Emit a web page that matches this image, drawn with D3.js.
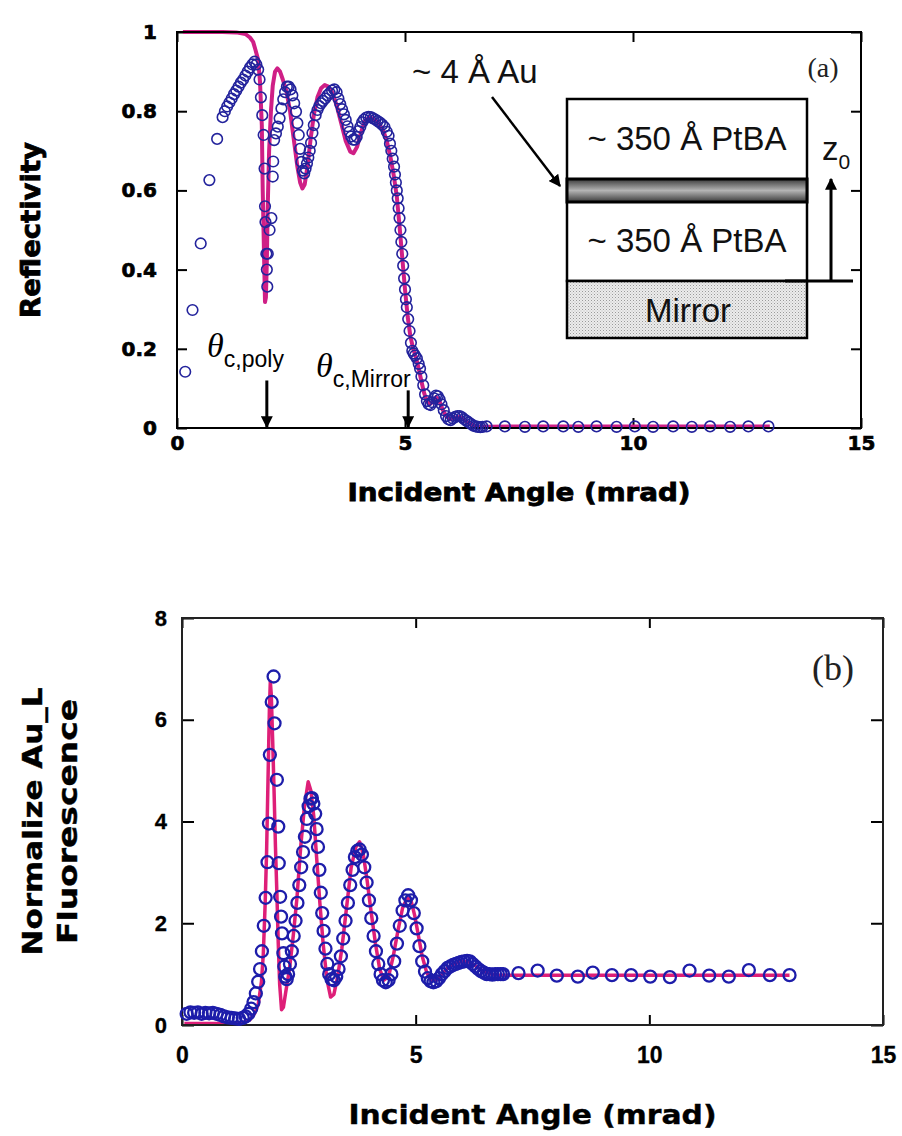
<!DOCTYPE html>
<html>
<head>
<meta charset="utf-8">
<script src="https://cdn.jsdelivr.net/npm/d3@7"></script>
<style>
  body { margin: 0; background: #fff; }
  svg { display: block; }
</style>
</head>
<body>
<svg id="fig" width="902" height="1136"></svg>
<script>
// ---------- (a) reflectivity vs incident angle ----------
const reflectivityFit = [
  [0.13,1.000],[0.50,1.000],[1.00,1.000],[1.30,0.999],[1.50,0.995],[1.60,0.986],[1.67,0.975],
  [1.72,0.955],[1.78,0.930],[1.82,0.875],[1.86,0.765],[1.88,0.600],[1.91,0.430],[1.93,0.318],
  [1.95,0.330],[1.97,0.420],[1.99,0.560],[2.02,0.700],[2.06,0.800],[2.10,0.865],[2.15,0.900],
  [2.20,0.908],[2.26,0.900],[2.32,0.880],[2.40,0.850],[2.48,0.800],[2.56,0.730],[2.64,0.660],
  [2.70,0.620],[2.75,0.605],[2.80,0.615],[2.86,0.660],[2.93,0.730],[3.00,0.790],[3.08,0.835],
  [3.16,0.858],[3.24,0.866],[3.32,0.862],[3.40,0.848],[3.50,0.815],[3.60,0.770],[3.70,0.725],
  [3.80,0.698],[3.87,0.694],[3.95,0.710],[4.03,0.745],[4.12,0.775],[4.22,0.785],[4.32,0.780],
  [4.42,0.770],[4.52,0.752],[4.60,0.725],[4.68,0.685],[4.75,0.640],[4.82,0.585],[4.88,0.510],
  [4.94,0.430],[5.00,0.350],[5.06,0.280],[5.12,0.230],[5.18,0.200],[5.24,0.178],[5.30,0.150],
  [5.36,0.118],[5.42,0.088],[5.48,0.068],[5.54,0.060],[5.60,0.065],[5.68,0.078],[5.75,0.070],
  [5.82,0.048],[5.90,0.030],[6.00,0.022],[6.10,0.026],[6.20,0.028],[6.30,0.020],[6.40,0.012],
  [6.50,0.006],[6.60,0.003],[6.80,0.003],[7.50,0.004],[8.50,0.004],[10.00,0.004],[11.50,0.004],
  [13.00,0.004]
];

const reflectivityObs = [
  [0.18,0.142],[0.34,0.298],[0.52,0.466],[0.71,0.626],[0.88,0.730],[1.00,0.785],[1.05,0.800],
  [1.10,0.812],[1.15,0.822],[1.20,0.832],[1.25,0.843],[1.30,0.852],[1.35,0.862],[1.40,0.872],
  [1.45,0.880],[1.50,0.890],[1.55,0.900],[1.60,0.910],[1.65,0.918],[1.70,0.925],[1.74,0.918],
  [1.78,0.905],[1.81,0.880],[1.84,0.835],[1.87,0.790],[1.90,0.740],[1.92,0.655],[1.93,0.560],
  [1.94,0.520],[1.96,0.440],[1.97,0.400],[1.98,0.357],[1.99,0.440],[2.03,0.500],[2.07,0.530],
  [2.10,0.635],[2.11,0.673],[2.13,0.727],[2.17,0.744],[2.21,0.761],[2.25,0.782],[2.29,0.807],
  [2.33,0.830],[2.37,0.848],[2.41,0.862],[2.45,0.862],[2.49,0.855],[2.53,0.840],[2.57,0.820],
  [2.61,0.799],[2.64,0.770],[2.67,0.740],[2.70,0.705],[2.73,0.672],[2.76,0.650],[2.79,0.643],
  [2.82,0.655],[2.85,0.668],[2.88,0.683],[2.91,0.700],[2.94,0.720],[2.97,0.745],[3.00,0.765],
  [3.04,0.790],[3.08,0.803],[3.12,0.813],[3.16,0.820],[3.20,0.826],[3.25,0.832],[3.30,0.840],
  [3.35,0.846],[3.40,0.852],[3.45,0.855],[3.50,0.848],[3.54,0.832],[3.58,0.818],[3.62,0.805],
  [3.66,0.792],[3.70,0.778],[3.74,0.762],[3.78,0.748],[3.82,0.736],[3.86,0.728],[3.90,0.728],
  [3.94,0.735],[3.98,0.750],[4.02,0.760],[4.06,0.772],[4.10,0.779],[4.15,0.784],[4.20,0.786],
  [4.25,0.785],[4.30,0.782],[4.35,0.779],[4.40,0.775],[4.45,0.771],[4.50,0.766],[4.55,0.760],
  [4.60,0.748],[4.64,0.738],[4.67,0.718],[4.70,0.700],[4.73,0.680],[4.76,0.660],[4.78,0.640],
  [4.80,0.620],[4.82,0.600],[4.84,0.580],[4.86,0.555],[4.88,0.530],[4.90,0.500],[4.92,0.470],
  [4.94,0.440],[4.96,0.410],[4.98,0.378],[5.00,0.350],[5.02,0.325],[5.04,0.305],[5.07,0.275],
  [5.10,0.245],[5.13,0.215],[5.16,0.195],[5.19,0.188],[5.22,0.183],[5.26,0.176],[5.30,0.162],
  [5.33,0.150],[5.36,0.130],[5.40,0.108],[5.44,0.085],[5.48,0.068],[5.52,0.060],[5.56,0.058],
  [5.60,0.065],[5.64,0.075],[5.68,0.082],[5.72,0.080],[5.76,0.072],[5.80,0.060],[5.85,0.045],
  [5.90,0.030],[5.95,0.022],[6.00,0.020],[6.05,0.024],[6.10,0.028],[6.15,0.030],[6.20,0.030],
  [6.25,0.027],[6.30,0.022],[6.35,0.018],[6.40,0.014],[6.45,0.010],[6.50,0.006],[6.55,0.004],
  [6.60,0.003],[6.65,0.002],[6.70,0.003],[6.79,0.004],[7.19,0.004],[7.63,0.003],[8.03,0.004],
  [8.47,0.004],[8.80,0.003],[9.20,0.004],[9.64,0.003],[10.04,0.004],[10.44,0.003],[10.88,0.004],
  [11.29,0.003],[11.69,0.004],[12.13,0.003],[12.53,0.004],[12.97,0.004]
];

// ---------- (b) normalized Au L fluorescence vs incident angle ----------
const fluorescenceFit = [
  [0.05,0.03],[0.50,0.03],[1.00,0.03],[1.30,0.04],[1.45,0.10],[1.55,0.22],[1.63,0.40],
  [1.70,0.85],[1.74,1.40],[1.78,2.40],[1.81,3.40],[1.84,4.80],[1.87,6.20],[1.89,6.75],
  [1.91,6.50],[1.94,5.60],[1.97,4.60],[2.00,3.50],[2.03,2.60],[2.06,1.60],[2.09,0.80],
  [2.13,0.30],[2.17,0.35],[2.22,0.65],[2.30,1.10],[2.38,1.75],[2.46,2.50],[2.54,3.50],
  [2.62,4.30],[2.70,4.78],[2.76,4.60],[2.82,4.10],[2.88,3.30],[2.95,2.40],[3.02,1.60],
  [3.10,0.90],[3.18,0.55],[3.25,0.60],[3.33,0.95],[3.42,1.50],[3.52,2.30],[3.62,3.10],
  [3.72,3.50],[3.80,3.60],[3.88,3.35],[3.96,2.85],[4.05,2.20],[4.14,1.60],[4.23,1.10],
  [4.32,0.88],[4.42,0.95],[4.52,1.35],[4.62,1.85],[4.72,2.30],[4.82,2.50],[4.90,2.45],
  [4.98,2.15],[5.06,1.75],[5.14,1.35],[5.24,1.02],[5.34,0.88],[5.44,0.88],[5.55,0.98],
  [5.68,1.12],[5.82,1.20],[5.98,1.25],[6.14,1.24],[6.30,1.15],[6.46,1.05],[6.62,1.00],
  [6.80,0.98],[7.50,0.98],[8.50,0.98],[10.00,0.98],[11.50,0.98],[13.00,0.98]
];

const fluorescenceObs = [
  [0.10,0.22],[0.18,0.25],[0.26,0.24],[0.34,0.25],[0.42,0.22],[0.50,0.24],[0.58,0.23],
  [0.66,0.24],[0.74,0.22],[0.82,0.20],[0.90,0.17],[0.98,0.15],[1.06,0.14],[1.14,0.13],
  [1.22,0.12],[1.30,0.14],[1.36,0.17],[1.42,0.22],[1.48,0.32],[1.53,0.45],[1.58,0.62],
  [1.63,0.85],[1.67,1.10],[1.71,1.45],[1.75,1.95],[1.79,2.50],[1.83,3.20],[1.86,3.96],
  [1.88,5.31],[1.92,6.35],[1.96,6.85],[1.98,5.93],[2.03,4.82],[2.06,3.90],[2.07,3.18],
  [2.10,2.52],[2.12,2.13],[2.14,1.80],[2.17,1.41],[2.19,1.15],[2.21,0.95],[2.24,0.90],
  [2.27,1.00],[2.31,1.20],[2.35,1.45],[2.39,1.75],[2.43,2.05],[2.47,2.40],[2.51,2.75],
  [2.55,3.10],[2.59,3.40],[2.63,3.70],[2.67,4.05],[2.71,4.30],[2.75,4.45],[2.78,4.46],
  [2.81,4.35],[2.85,4.15],[2.88,3.85],[2.91,3.50],[2.94,3.05],[2.97,2.60],[3.00,2.20],
  [3.03,1.85],[3.07,1.50],[3.11,1.20],[3.15,1.00],[3.20,0.90],[3.25,0.88],[3.30,0.95],
  [3.35,1.10],[3.40,1.35],[3.45,1.70],[3.50,2.05],[3.55,2.40],[3.60,2.75],[3.65,3.05],
  [3.70,3.30],[3.75,3.42],[3.80,3.45],[3.85,3.35],[3.90,3.10],[3.95,2.80],[4.00,2.45],
  [4.05,2.10],[4.10,1.75],[4.15,1.45],[4.20,1.20],[4.25,1.00],[4.30,0.88],[4.36,0.84],
  [4.42,0.88],[4.48,1.00],[4.54,1.25],[4.60,1.60],[4.66,1.95],[4.72,2.25],[4.78,2.45],
  [4.84,2.55],[4.90,2.45],[4.96,2.20],[5.02,1.90],[5.08,1.55],[5.14,1.25],[5.20,1.05],
  [5.26,0.92],[5.32,0.86],[5.38,0.84],[5.44,0.86],[5.50,0.92],[5.56,1.00],[5.62,1.06],
  [5.68,1.12],[5.74,1.15],[5.80,1.18],[5.86,1.20],[5.92,1.22],[5.98,1.24],[6.04,1.25],
  [6.10,1.26],[6.16,1.25],[6.22,1.20],[6.28,1.15],[6.34,1.10],[6.40,1.06],[6.46,1.03],
  [6.52,1.00],[6.58,1.00],[6.64,0.99],[6.70,1.00],[6.76,1.00],[6.82,1.00],[6.87,1.00],
  [7.20,1.02],[7.61,1.07],[8.02,0.97],[8.47,0.95],[8.79,1.03],[9.20,0.98],[9.61,0.98],
  [10.02,0.95],[10.44,0.94],[10.86,1.07],[11.28,0.97],[11.70,0.95],[12.13,1.08],[12.58,0.98],
  [13.00,0.98]
];

// axis ticks
const angleTicks = [0, 5, 10, 15];
const reflTicks = [0, 0.2, 0.4, 0.6, 0.8, 1];
const fluorTicks = [0, 2, 4, 6, 8];
// critical angles marked with arrows in panel (a)
const criticalAngles = [
  { name: "poly",   at: 1.97, top: 0.12, lx: 0.66, ly: 0.18 },
  { name: "Mirror", at: 5.07, top: 0.095, lx: 3.05, ly: 0.13 }
];

const svg = d3.select("#fig");
const defs = svg.append("defs");

const heavy = "'DejaVu Sans', sans-serif";
const arial = "'Liberation Sans', Arial, sans-serif";
const serif = "'Liberation Serif', 'Times New Roman', serif";

// arrowhead marker
defs.append("marker")
  .attr("id", "head").attr("viewBox", "0 0 10 10")
  .attr("refX", 9).attr("refY", 5)
  .attr("markerWidth", 12).attr("markerHeight", 12)
  .attr("markerUnits", "userSpaceOnUse")
  .attr("orient", "auto")
  .append("path").attr("d", "M0,0 L10,5 L0,10 Z").attr("fill", "#000");

// gold layer shading
const g = defs.append("linearGradient").attr("id", "au").attr("x1", 0).attr("y1", 0).attr("x2", 0).attr("y2", 1);
g.append("stop").attr("offset", "0").attr("stop-color", "#3a3a3a");
g.append("stop").attr("offset", "0.5").attr("stop-color", "#b4b4b4");
g.append("stop").attr("offset", "1").attr("stop-color", "#3a3a3a");

// stippled mirror substrate
const pat = defs.append("pattern").attr("id", "dots").attr("width", 3).attr("height", 3)
  .attr("patternUnits", "userSpaceOnUse");
pat.append("rect").attr("width", 3).attr("height", 3).attr("fill", "#ececec");
pat.append("rect").attr("width", 1).attr("height", 1).attr("fill", "#9a9a9a");
pat.append("rect").attr("x", 1.5).attr("y", 1.5).attr("width", 1).attr("height", 1).attr("fill", "#b8b8b8");

function frame(x, y, color) {
  const [x0, x1] = x.range(), [y0, y1] = y.range();
  svg.append("rect")
    .attr("x", x0).attr("y", y1).attr("width", x1 - x0).attr("height", y0 - y1)
    .attr("fill", "none").attr("stroke", color).attr("stroke-width", 2);
}

function styleAxis(sel, font, size, weight, thicken) {
  sel.select(".domain").remove();
  sel.selectAll(".tick line").attr("stroke", "#000").attr("stroke-width", 2);
  sel.selectAll(".tick text").attr("font-family", font).attr("font-size", size)
    .attr("font-weight", weight).attr("fill", "#000")
    .attr("stroke", thicken ? "#000" : null).attr("stroke-width", thicken || null);
}

// ================= panel (a) =================
const xA = d3.scaleLinear().domain([0, 15]).range([177, 861]);
const yA = d3.scaleLinear().domain([0, 1]).range([428, 32]);

svg.append("g").attr("transform", `translate(0,${yA(0)})`)
  .call(d3.axisBottom(xA).tickValues(angleTicks).tickSize(-10).tickPadding(8).tickFormat(d3.format("d")))
  .call(s => styleAxis(s, heavy, 20, "bold", 0.7));
svg.append("g").attr("transform", `translate(0,${yA(1)})`)
  .call(d3.axisTop(xA).tickValues(angleTicks).tickSize(-10).tickFormat(""))
  .call(s => styleAxis(s, heavy, 20, "bold", 0));
svg.append("g").attr("transform", `translate(${xA(0)},0)`)
  .call(d3.axisLeft(yA).tickValues(reflTicks).tickSize(-10).tickPadding(20)
    .tickFormat(d => (d === 0 || d === 1) ? d3.format("d")(d) : d3.format(".1f")(d)))
  .call(s => styleAxis(s, heavy, 20, "bold", 0.7));
svg.append("g").attr("transform", `translate(${xA(15)},0)`)
  .call(d3.axisRight(yA).tickValues(reflTicks).tickSize(-10).tickFormat(""))
  .call(s => styleAxis(s, heavy, 20, "bold", 0));

const lineA = d3.line().x(d => xA(d[0])).y(d => yA(d[1]));
svg.append("path").datum(reflectivityFit).attr("d", lineA)
  .attr("fill", "none").attr("stroke", "#cf1f86").attr("stroke-width", 4)
  .attr("stroke-linejoin", "round");
frame(xA, yA, "#000");
svg.append("g").selectAll("circle").data(reflectivityObs).join("circle")
  .attr("cx", d => xA(d[0])).attr("cy", d => yA(d[1])).attr("r", 5.3)
  .attr("fill", "none").attr("stroke", "#23239c").attr("stroke-width", 1.6);

// critical angle markers
criticalAngles.forEach(c => {
  svg.append("line")
    .attr("x1", xA(c.at)).attr("x2", xA(c.at))
    .attr("y1", yA(c.top)).attr("y2", yA(0) - 1)
    .attr("stroke", "#000").attr("stroke-width", 3).attr("marker-end", "url(#head)");
  const t = svg.append("text").attr("x", xA(c.lx)).attr("y", yA(c.ly)).attr("fill", "#000");
  t.append("tspan").attr("font-family", serif).attr("font-style", "italic").attr("font-size", 34).text("θ");
  t.append("tspan").attr("font-family", arial).attr("font-size", 23).attr("dy", 10).text("c," + c.name);
});

// label (a)
svg.append("text").attr("x", 823).attr("y", 77).attr("text-anchor", "middle")
  .attr("font-family", serif).attr("font-size", 28).attr("fill", "#222").text("(a)");

// sample stack diagram
const stack = svg.append("g");
const bx0 = 567, bx1 = 807;
const yTop = 99, yAu0 = 179, yAu1 = 202, yMir = 281, yBot = 338;
stack.append("rect").attr("x", bx0).attr("y", yTop).attr("width", bx1 - bx0).attr("height", yMir - yTop)
  .attr("fill", "#fff").attr("stroke", "#000").attr("stroke-width", 2.5);
stack.append("rect").attr("x", bx0).attr("y", yMir).attr("width", bx1 - bx0).attr("height", yBot - yMir)
  .attr("fill", "url(#dots)").attr("stroke", "#000").attr("stroke-width", 2.5);
stack.append("rect").attr("x", bx0).attr("y", yAu0).attr("width", bx1 - bx0).attr("height", yAu1 - yAu0)
  .attr("fill", "url(#au)").attr("stroke", "#000").attr("stroke-width", 3);
const insetFont = 33;
stack.append("text").attr("x", (bx0 + bx1) / 2).attr("y", 150).attr("text-anchor", "middle")
  .attr("font-family", arial).attr("font-size", insetFont).attr("fill", "#111").text("~ 350 Å PtBA");
stack.append("text").attr("x", (bx0 + bx1) / 2).attr("y", 252).attr("text-anchor", "middle")
  .attr("font-family", arial).attr("font-size", insetFont).attr("fill", "#111").text("~ 350 Å PtBA");
stack.append("text").attr("x", 688).attr("y", 322).attr("text-anchor", "middle")
  .attr("font-family", arial).attr("font-size", insetFont).attr("fill", "#111").text("Mirror");
// z0 reference
stack.append("line").attr("x1", 785).attr("x2", 853).attr("y1", yMir).attr("y2", yMir)
  .attr("stroke", "#000").attr("stroke-width", 3);
stack.append("line").attr("x1", 831).attr("x2", 831).attr("y1", yMir).attr("y2", 179)
  .attr("stroke", "#000").attr("stroke-width", 3).attr("marker-end", "url(#head)");
const z = stack.append("text").attr("x", 822).attr("y", 160).attr("font-family", arial)
  .attr("font-size", insetFont).attr("fill", "#111");
z.append("tspan").text("z");
z.append("tspan").attr("font-size", 21).attr("dy", 9).text("0");
// gold layer callout
svg.append("text").attr("x", 412).attr("y", 83).attr("font-family", arial)
  .attr("font-size", insetFont).attr("fill", "#111").text("~ 4 Å Au");
svg.append("line").attr("x1", 492).attr("y1", 97).attr("x2", 560).attr("y2", 186)
  .attr("stroke", "#000").attr("stroke-width", 2.5).attr("marker-end", "url(#head)");

// axis titles (a)
svg.append("text").attr("x", (xA(0) + xA(15)) / 2).attr("y", 501).attr("text-anchor", "middle")
  .attr("font-family", heavy).attr("font-weight", "bold").attr("font-size", 24)
  .attr("stroke", "#000").attr("stroke-width", 0.8)
  .attr("textLength", 343).attr("lengthAdjust", "spacingAndGlyphs").text("Incident Angle (mrad)");
svg.append("text").attr("transform", `translate(40,${(yA(0) + yA(1)) / 2}) rotate(-90)`)
  .attr("text-anchor", "middle").attr("font-family", heavy).attr("font-weight", "bold")
  .attr("font-size", 26).attr("stroke", "#000").attr("stroke-width", 0.8)
  .attr("textLength", 176).attr("lengthAdjust", "spacingAndGlyphs")
  .text("Reflectivity");

// ================= panel (b) =================
const xB = d3.scaleLinear().domain([0, 15]).range([182, 883]);
const yB = d3.scaleLinear().domain([0, 8]).range([1025, 618]);

svg.append("g").attr("transform", `translate(0,${yB(0)})`)
  .call(d3.axisBottom(xB).tickValues(angleTicks).tickSize(-10).tickPadding(22).tickFormat(d3.format("d")))
  .call(s => styleAxis(s, arial, 23, "bold", 0.3));
svg.append("g").attr("transform", `translate(0,${yB(8)})`)
  .call(d3.axisTop(xB).tickValues(angleTicks).tickSize(-10).tickFormat(""))
  .call(s => styleAxis(s, arial, 23, "bold", 0));
svg.append("g").attr("transform", `translate(${xB(0)},0)`)
  .call(d3.axisLeft(yB).tickValues(fluorTicks).tickSize(-12).tickPadding(15).tickFormat(d3.format("d")))
  .call(s => styleAxis(s, arial, 22, "bold", 0.3));
svg.append("g").attr("transform", `translate(${xB(15)},0)`)
  .call(d3.axisRight(yB).tickValues(fluorTicks).tickSize(-12).tickFormat(""))
  .call(s => styleAxis(s, arial, 22, "bold", 0));

const lineB = d3.line().x(d => xB(d[0])).y(d => yB(d[1]));
svg.append("path").datum(fluorescenceFit).attr("d", lineB)
  .attr("fill", "none").attr("stroke", "#de1f78").attr("stroke-width", 3.5)
  .attr("stroke-linejoin", "round");
frame(xB, yB, "#222");
svg.append("g").selectAll("circle").data(fluorescenceObs).join("circle")
  .attr("cx", d => xB(d[0])).attr("cy", d => yB(d[1])).attr("r", 6)
  .attr("fill", "none").attr("stroke", "#1d1daa").attr("stroke-width", 2.3);

svg.append("text").attr("x", 833).attr("y", 680).attr("text-anchor", "middle")
  .attr("font-family", serif).attr("font-size", 36).attr("fill", "#222").text("(b)");

svg.append("text").attr("x", (xB(0) + xB(15)) / 2).attr("y", 1124).attr("text-anchor", "middle")
  .attr("font-family", heavy).attr("font-weight", "bold").attr("font-size", 26)
  .attr("stroke", "#000").attr("stroke-width", 0.4)
  .attr("textLength", 368).attr("lengthAdjust", "spacingAndGlyphs").text("Incident Angle (mrad)");
const yLab = svg.append("g").attr("transform", `translate(0,${(yB(0) + yB(8)) / 2})`);
yLab.append("text").attr("transform", "translate(42,0) rotate(-90)").attr("text-anchor", "middle")
  .attr("font-family", heavy).attr("font-weight", "bold").attr("font-size", 26)
  .attr("stroke", "#000").attr("stroke-width", 0.4)
  .attr("textLength", 268).attr("lengthAdjust", "spacingAndGlyphs").text("Normalize Au_L");
yLab.append("text").attr("transform", "translate(77,0) rotate(-90)").attr("text-anchor", "middle")
  .attr("font-family", heavy).attr("font-weight", "bold").attr("font-size", 26)
  .attr("stroke", "#000").attr("stroke-width", 0.4)
  .attr("textLength", 245).attr("lengthAdjust", "spacingAndGlyphs").text("Fluorescence");
</script>
</body>
</html>
